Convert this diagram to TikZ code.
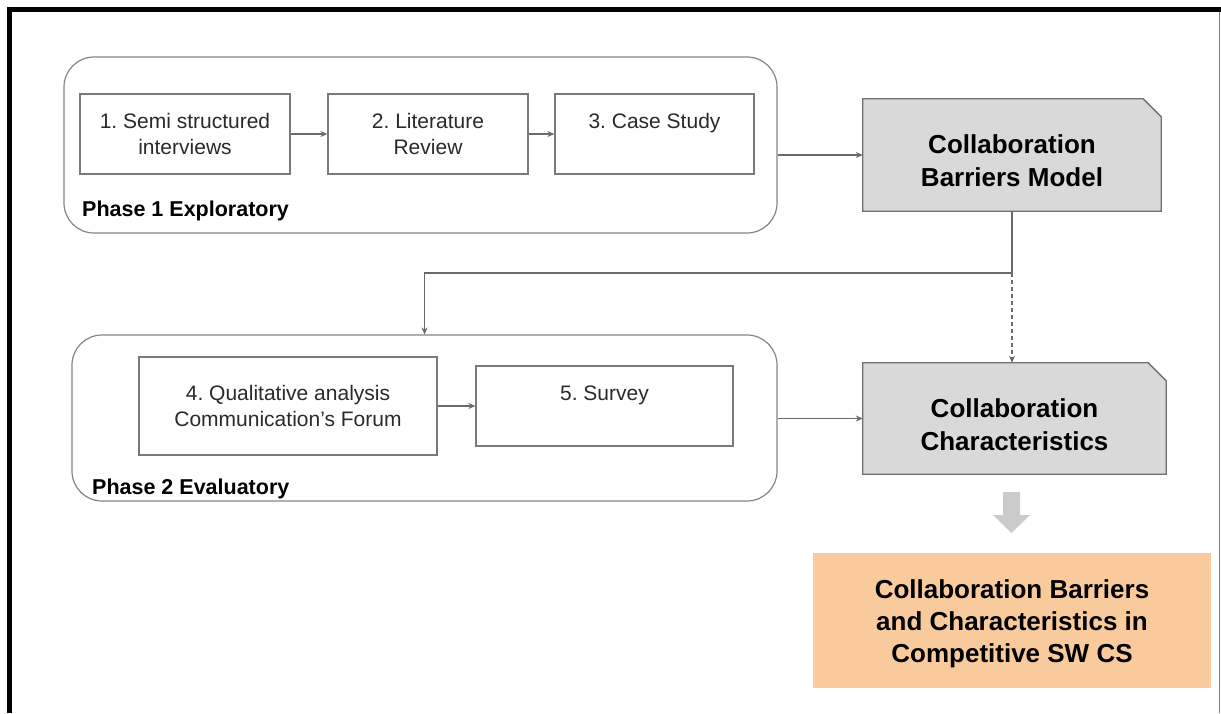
\documentclass[tikz,border=0pt]{standalone}
\usepackage{fontspec}
\setmainfont{Liberation Sans}
\frenchspacing
\usetikzlibrary{arrows.meta,backgrounds}

\definecolor{boxline}{HTML}{7A7A7A}
\definecolor{grpline}{HTML}{858585}
\definecolor{conncol}{HTML}{6A6A6A}
\definecolor{modelfill}{HTML}{D9D9D9}
\definecolor{modelline}{HTML}{707070}
\definecolor{resultfill}{HTML}{F9CB9C}
\definecolor{blockcol}{HTML}{CBCBCB}
\definecolor{textcol}{HTML}{2A2A2A}

\tikzset{
  stepbox/.style={draw=boxline, line width=1.2pt, fill=white, align=center,
    text=textcol, font=\fontsize{21}{26}\selectfont, inner sep=0pt},
  group/.style={draw=grpline, line width=1.2pt, rounded corners=30pt, inner sep=0pt},
  phase/.style={font=\bfseries\fontsize{21.5}{26}\selectfont, text=black,
    anchor=west, inner sep=0pt},
  model/.style={inner sep=0pt},
  modeltext/.style={align=center, inner sep=0pt, text=black,
    font=\bfseries\fontsize{26}{33}\selectfont},
  result/.style={fill=resultfill, inner sep=0pt},
  resulttext/.style={align=center, inner sep=0pt, text=black,
    font=\bfseries\fontsize{26}{32}\selectfont},
  conn/.style={draw=conncol, line width=1.1pt,
    -{Stealth[length=7pt,width=6pt]}},
}

% outline of a box with its upper right corner cut off
\newcommand{\cutbox}[1]{%
  \filldraw[fill=modelfill, draw=modelline, line width=1.3pt]
    (#1.south west) -- (#1.north west) -- ([xshift=-18pt]#1.north east)
    -- ([yshift=-18pt]#1.north east) -- (#1.south east) -- cycle;}

\begin{document}
\begin{tikzpicture}[x=1pt,y=-1pt]
\useasboundingbox (0,0) rectangle (1221,713);

% page frame
\fill[black] (7,7) rectangle (1221,12);
\fill[black] (7,7) rectangle (12,713);
\draw[gray, line width=1.5pt] (1219.5,12) -- (1219.5,713);

% phase containers
\node[group, minimum width=713pt, minimum height=176pt] (p1) at (420.5,145) {};
\node[group, minimum width=705pt, minimum height=166pt] (p2) at (424.5,418) {};
\node[phase] (l1) at (82,211) {Phase 1 Exploratory};
\node[phase] (l2) at (92,489) {Phase 2 Evaluatory};

% research steps
\node[stepbox, minimum width=210pt, minimum height=80pt] (b1) at (185,134)
  {1. Semi structured\\interviews};
\node[stepbox, minimum width=200pt, minimum height=80pt] (b2) at (428,134)
  {2. Literature\\Review};
\node[stepbox, minimum width=199pt, minimum height=80pt] (b3) at (654.5,134)
  {3. Case Study\\\mbox{}};
\node[stepbox, minimum width=298pt, minimum height=98pt] (b4) at (288,406)
  {4. Qualitative analysis\\Communication’s Forum};
\node[stepbox, minimum width=257pt, minimum height=80pt] (b5) at (604.5,406)
  {5. Survey\\\mbox{}};

% models
\node[model, minimum width=298pt, minimum height=112pt] (cbm) at (1012,155) {};
\node[model, minimum width=303pt, minimum height=111pt] (cc) at (1014.5,418.5) {};
\begin{scope}[on background layer]
  \fill[white] (0,0) rectangle (1221,713);
  \cutbox{cbm}
  \cutbox{cc}
\end{scope}
\node[modeltext] (cbmtext) at ([yshift=-6pt]cbm.center)
  {Collaboration\\Barriers Model};
\node[modeltext] (cctext) at ([yshift=-6pt]cc.center)
  {Collaboration\\Characteristics};

% outcome
\node[result, minimum width=398pt, minimum height=135pt] (res) at (1012,620.5) {};
\node[resulttext] (restext) at ([yshift=-3pt]res.center)
  {Collaboration Barriers\\and Characteristics in\\Competitive SW CS};

% connectors
\draw[conn] (b1.east) -- (b2.west);
\draw[conn] (b2.east) -- (b3.west);
\draw[conn] (b4.east) -- (b5.west);
\draw[conn] (p1.east |- cbm.west) -- (cbm.west);
\draw[conn] (p2.east |- cc.west) -- (cc.west);
\coordinate (split) at (cbm.south |- 0,273);
\draw[conn] (cbm.south) -- (split) -| (p2.north);
\draw[conn, dash pattern=on 4pt off 3pt] (split) -- (split |- cc.north);

% block arrow towards the outcome
\coordinate (tip) at (1011.5,533);
\fill[blockcol] ([xshift=-8.5pt]tip |- 0,492) -- ([xshift=8.5pt]tip |- 0,492)
  -- ([xshift=8.5pt]tip |- 0,515) -- ([xshift=18.5pt]tip |- 0,515) -- (tip)
  -- ([xshift=-18.5pt]tip |- 0,515) -- ([xshift=-8.5pt]tip |- 0,515) -- cycle;
\end{tikzpicture}
\end{document}
